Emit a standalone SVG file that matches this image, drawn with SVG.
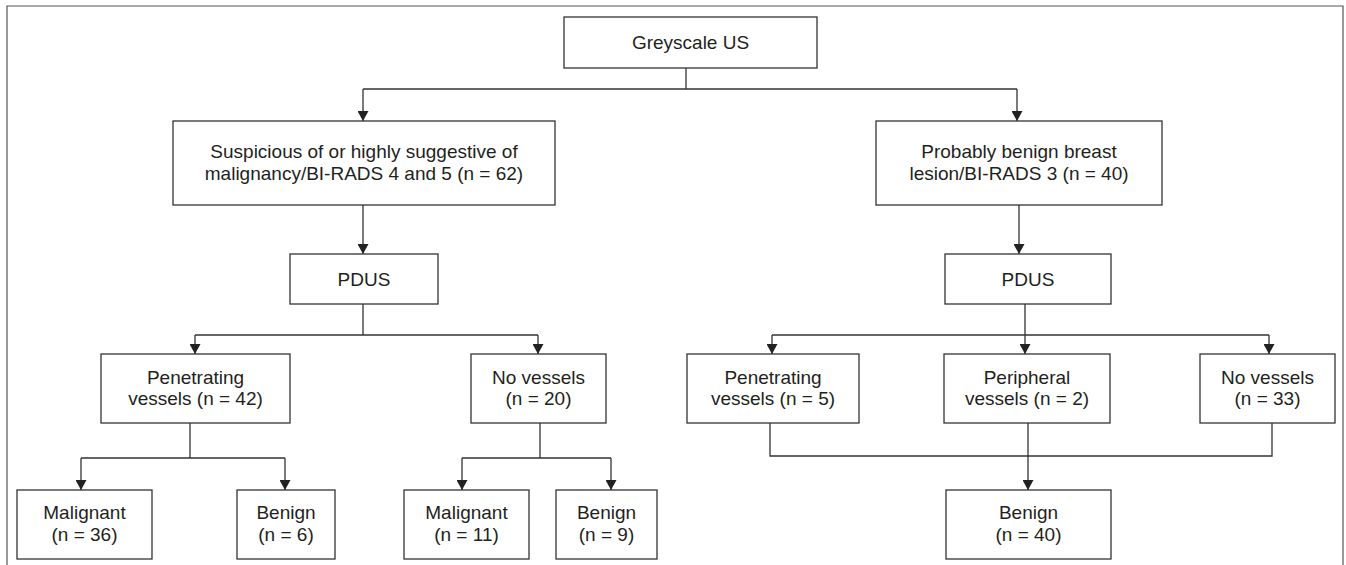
<svg xmlns="http://www.w3.org/2000/svg" width="1346" height="565" viewBox="0 0 1346 565">
<defs>
<style>
.box{fill:#fff;stroke:#333;stroke-width:1.3}
.ln{fill:none;stroke:#333;stroke-width:1.3}
.t{font-family:"Liberation Sans",Arial,sans-serif;font-size:19px;fill:#231f20;text-anchor:middle}
</style>
<marker id="ah" markerUnits="userSpaceOnUse" markerWidth="11" markerHeight="11" refX="10" refY="5.5" orient="auto" viewBox="0 0 10 11">
<path d="M0,0 L10,5.5 L0,11 z" fill="#222"/>
</marker>
</defs>
<rect x="0" y="0" width="1346" height="565" fill="#fff"/>
<path d="M7,570 V6 H1343 V570" fill="none" stroke="#555" stroke-width="1.2"/>
<g id="connectors">
<path class="ln" d="M686,68 V89"/>
<path class="ln" d="M363,89 H1017"/>
<path class="ln" d="M363,89 V121" marker-end="url(#ah)"/>
<path class="ln" d="M1017,89 V121" marker-end="url(#ah)"/>
<path class="ln" d="M363,205 V254" marker-end="url(#ah)"/>
<path class="ln" d="M1019,205 V254" marker-end="url(#ah)"/>
<path class="ln" d="M363,304 V335 M195,335 H538"/>
<path class="ln" d="M195,335 V354" marker-end="url(#ah)"/>
<path class="ln" d="M538,335 V354" marker-end="url(#ah)"/>
<path class="ln" d="M1025,304 V335 M772,335 H1269"/>
<path class="ln" d="M772,335 V354" marker-end="url(#ah)"/>
<path class="ln" d="M1025,335 V354" marker-end="url(#ah)"/>
<path class="ln" d="M1269,335 V354" marker-end="url(#ah)"/>
<path class="ln" d="M190,423 V458 M81,458 H285"/>
<path class="ln" d="M81,458 V490" marker-end="url(#ah)"/>
<path class="ln" d="M285,458 V490" marker-end="url(#ah)"/>
<path class="ln" d="M540,423 V458 M462,458 H611"/>
<path class="ln" d="M462,458 V490" marker-end="url(#ah)"/>
<path class="ln" d="M611,458 V490" marker-end="url(#ah)"/>
<path class="ln" d="M770,423 V456 H1272 V423"/>
<path class="ln" d="M1028,423 V490" marker-end="url(#ah)"/>
</g>
<g id="greyscale"><rect class="box" x="564" y="17" width="253" height="51"/><text class="t" x="690.5" y="49">Greyscale US</text></g>
<g id="suspicious"><rect class="box" x="173" y="121" width="382" height="84"/><text class="t" x="364" y="158">Suspicious of or highly suggestive of</text><text class="t" x="364" y="180">malignancy/BI-RADS 4 and 5 (n = 62)</text></g>
<g id="probably"><rect class="box" x="876" y="121" width="286" height="84"/><text class="t" x="1019" y="158">Probably benign breast</text><text class="t" x="1019" y="180">lesion/BI-RADS 3 (n = 40)</text></g>
<g id="pdus-left"><rect class="box" x="290" y="254" width="148" height="50"/><text class="t" x="364" y="286">PDUS</text></g>
<g id="pdus-right"><rect class="box" x="945" y="254" width="166" height="50"/><text class="t" x="1028" y="286">PDUS</text></g>
<g id="pen42"><rect class="box" x="101" y="354" width="189" height="69"/><text class="t" x="195.5" y="384">Penetrating</text><text class="t" x="195.5" y="405">vessels (n = 42)</text></g>
<g id="nov20"><rect class="box" x="471" y="354" width="135" height="69"/><text class="t" x="538.5" y="384">No vessels</text><text class="t" x="538.5" y="405">(n = 20)</text></g>
<g id="pen5"><rect class="box" x="687" y="354" width="172" height="69"/><text class="t" x="773" y="384">Penetrating</text><text class="t" x="773" y="405">vessels (n = 5)</text></g>
<g id="per2"><rect class="box" x="944" y="354" width="166" height="69"/><text class="t" x="1027" y="384">Peripheral</text><text class="t" x="1027" y="405">vessels (n = 2)</text></g>
<g id="nov33"><rect class="box" x="1200" y="354" width="135" height="69"/><text class="t" x="1267.5" y="384">No vessels</text><text class="t" x="1267.5" y="405">(n = 33)</text></g>
<g id="mal36"><rect class="box" x="17" y="490" width="135" height="69"/><text class="t" x="84.5" y="519">Malignant</text><text class="t" x="84.5" y="541">(n = 36)</text></g>
<g id="ben6"><rect class="box" x="237" y="490" width="98" height="69"/><text class="t" x="286" y="519">Benign</text><text class="t" x="286" y="541">(n = 6)</text></g>
<g id="mal11"><rect class="box" x="404" y="490" width="125" height="69"/><text class="t" x="466.5" y="519">Malignant</text><text class="t" x="466.5" y="541">(n = 11)</text></g>
<g id="ben9"><rect class="box" x="556" y="490" width="101" height="69"/><text class="t" x="606.5" y="519">Benign</text><text class="t" x="606.5" y="541">(n = 9)</text></g>
<g id="ben40"><rect class="box" x="946" y="490" width="165" height="69"/><text class="t" x="1028.5" y="519">Benign</text><text class="t" x="1028.5" y="541">(n = 40)</text></g>
</svg>
